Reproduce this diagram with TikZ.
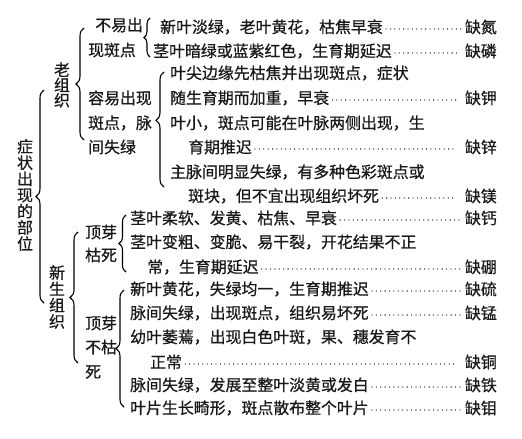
\documentclass[tikz,border=0pt]{standalone}
\usepackage{fontspec}
\setmainfont{Noto Sans CJK SC}[FakeBold=0.6]
\usetikzlibrary{decorations.pathreplacing}
\begin{document}
\begin{tikzpicture}[x=1pt,y=-1pt,
  every node/.style={inner sep=0pt, text=black!90},
  txt/.style={anchor=west, font=\fontsize{15.9}{16}\selectfont},
  qe/.style={anchor=east, font=\fontsize{15.9}{16}\selectfont},
  vlab/.style={align=center, font=\fontsize{15.9}{#1}\selectfont},
  brc/.style={decorate, decoration={brace, amplitude=#1}, line width=1.1pt},
  lead/.style={line width=1.3pt, line cap=round, dash pattern=on 0pt off 4.4pt, shorten <=3pt, shorten >=2pt},
  leadsp/.style={lead, shorten >=8pt},
]
\fill[white] (0,0) rectangle (522,439);
\useasboundingbox (0,0) rectangle (522,439);

% left labels
\node[vlab=16.2] (root) at (25,195) {症\\状\\出\\现\\的\\部\\位};
\node[vlab=15.2] (old) at (62,85) {老\\组\\织};
\node[vlab=16.3] (new) at (57,297) {新\\生\\组\\织};

% second-level labels
\node[txt] (a1) at (95,25) {不易出};
\node[txt] (a2) at (88,50) {现斑点};
\node[txt] (b1) at (88,98) {容易出现};
\node[txt] (b2) at (88,123) {斑点，脉};
\node[txt] (b3) at (88,147) {间失绿};
\node[txt] (c1) at (85,232) {顶芽};
\node[txt] (c2) at (85,255) {枯死};
\node[txt] (d1) at (85,323) {顶芽};
\node[txt] (d2) at (85,347) {不枯};
\node[txt] (d3) at (85,372) {死};

% content lines
\node[txt] (t1) at (160,27) {新叶淡绿，老叶黄花，枯焦早衰};
\node[qe]  (q1) at (497,27) {缺氮};
\node[txt] (t2) at (153,51) {茎叶暗绿或蓝紫红色，生育期延迟};
\node[qe]  (q2) at (497,51) {缺磷};
\node[txt] (t3) at (170,73) {叶尖边缘先枯焦并出现斑点，症状};
\node[txt] (t4) at (170,98) {随生育期而加重，早衰};
\node[qe]  (q4) at (497,98) {缺钾};
\node[txt] (t5) at (170,123) {叶小，斑点可能在叶脉两侧出现，生};
\node[txt] (t6) at (188,147) {育期推迟};
\node[qe]  (q6) at (497,147) {缺锌};
\node[txt] (t7) at (170,172) {主脉间明显失绿，有多种色彩斑点或};
\node[txt] (t8) at (188,196) {斑块，但不宜出现组织坏死};
\node[qe]  (q8) at (497,196) {缺镁};
\node[txt] (t9) at (130,218) {茎叶柔软、发黄、枯焦、早衰};
\node[qe]  (q9) at (497,218) {缺钙};
\node[txt] (t10) at (130,242) {茎叶变粗、变脆、易干裂，开花结果不正};
\node[txt] (t11) at (147,267) {常，生育期延迟};
\node[qe]  (q11) at (497,267) {缺硼};
\node[txt] (t12) at (130,289) {新叶黄花，失绿均一，生育期推迟};
\node[qe]  (q12) at (497,289) {缺硫};
\node[txt] (t13) at (130,313) {脉间失绿，出现斑点，组织易坏死};
\node[qe]  (q13) at (497,313) {缺锰};
\node[txt] (t14) at (130,337) {幼叶萎蔫，出现白色叶斑，果、穗发育不};
\node[txt] (t15) at (150,362) {正常};
\node[qe]  (q15) at (497,362) {缺铜};
\node[txt] (t16) at (130,385) {脉间失绿，发展至整叶淡黄或发白};
\node[qe]  (q16) at (497,385) {缺铁};
\node[txt] (t17) at (130,408) {叶片生长畸形，斑点散布整个叶片};
\node[qe]  (q17) at (497,408) {缺钼};

% leaders
\draw[lead]   ([yshift=-2pt]t1.east)  -- ([yshift=-2pt]q1.west);
\draw[leadsp] ([yshift=-2pt]t2.east)  -- ([yshift=-2pt]q2.west);
\draw[leadsp] ([yshift=-2pt]t4.east)  -- ([yshift=-2pt]q4.west);
\draw[leadsp] ([yshift=-2pt]t6.east)  -- ([yshift=-2pt]q6.west);
\draw[leadsp] ([yshift=-2pt]t8.east)  -- ([yshift=-2pt]q8.west);
\draw[lead]   ([yshift=-2pt]t9.east)  -- ([yshift=-2pt]q9.west);
\draw[lead]   ([yshift=-2pt]t11.east) -- ([yshift=-2pt]q11.west);
\draw[lead]   ([yshift=-2pt]t12.east) -- ([yshift=-2pt]q12.west);
\draw[lead]   ([yshift=-2pt]t13.east) -- ([yshift=-2pt]q13.west);
\draw[leadsp] ([yshift=-2pt]t15.east) -- ([yshift=-2pt]q15.west);
\draw[lead]   ([yshift=-2pt]t16.east) -- ([yshift=-2pt]q16.west);
\draw[lead]   ([yshift=-2pt]t17.east) -- ([yshift=-2pt]q17.west);

% brace end points
\coordinate (r0) at (44,303);  \coordinate (r1) at (44,90);
\coordinate (o0) at (84,140);  \coordinate (o1) at (84,28);
\coordinate (s0) at (150,57);  \coordinate (s1) at (150,18);
\coordinate (e0) at (164,187); \coordinate (e1) at (164,72);
\coordinate (n0) at (78,363);  \coordinate (n1) at (78,232);
\coordinate (k0) at (126,272); \coordinate (k1) at (126,215);
\coordinate (u0) at (124,407); \coordinate (u1) at (124,290);

\draw[brc=8pt] (r0) -- (r1);
\draw[brc=8pt] (o0) -- (o1);
\draw[brc=6pt] (s0) -- (s1);
\draw[brc=8pt, decoration={aspect=0.58}] (e0) -- (e1);
\draw[brc=8pt] (n0) -- (n1);
\draw[brc=7pt] (k0) -- (k1);
\draw[brc=8pt] (u0) -- (u1);
\end{tikzpicture}
\end{document}
